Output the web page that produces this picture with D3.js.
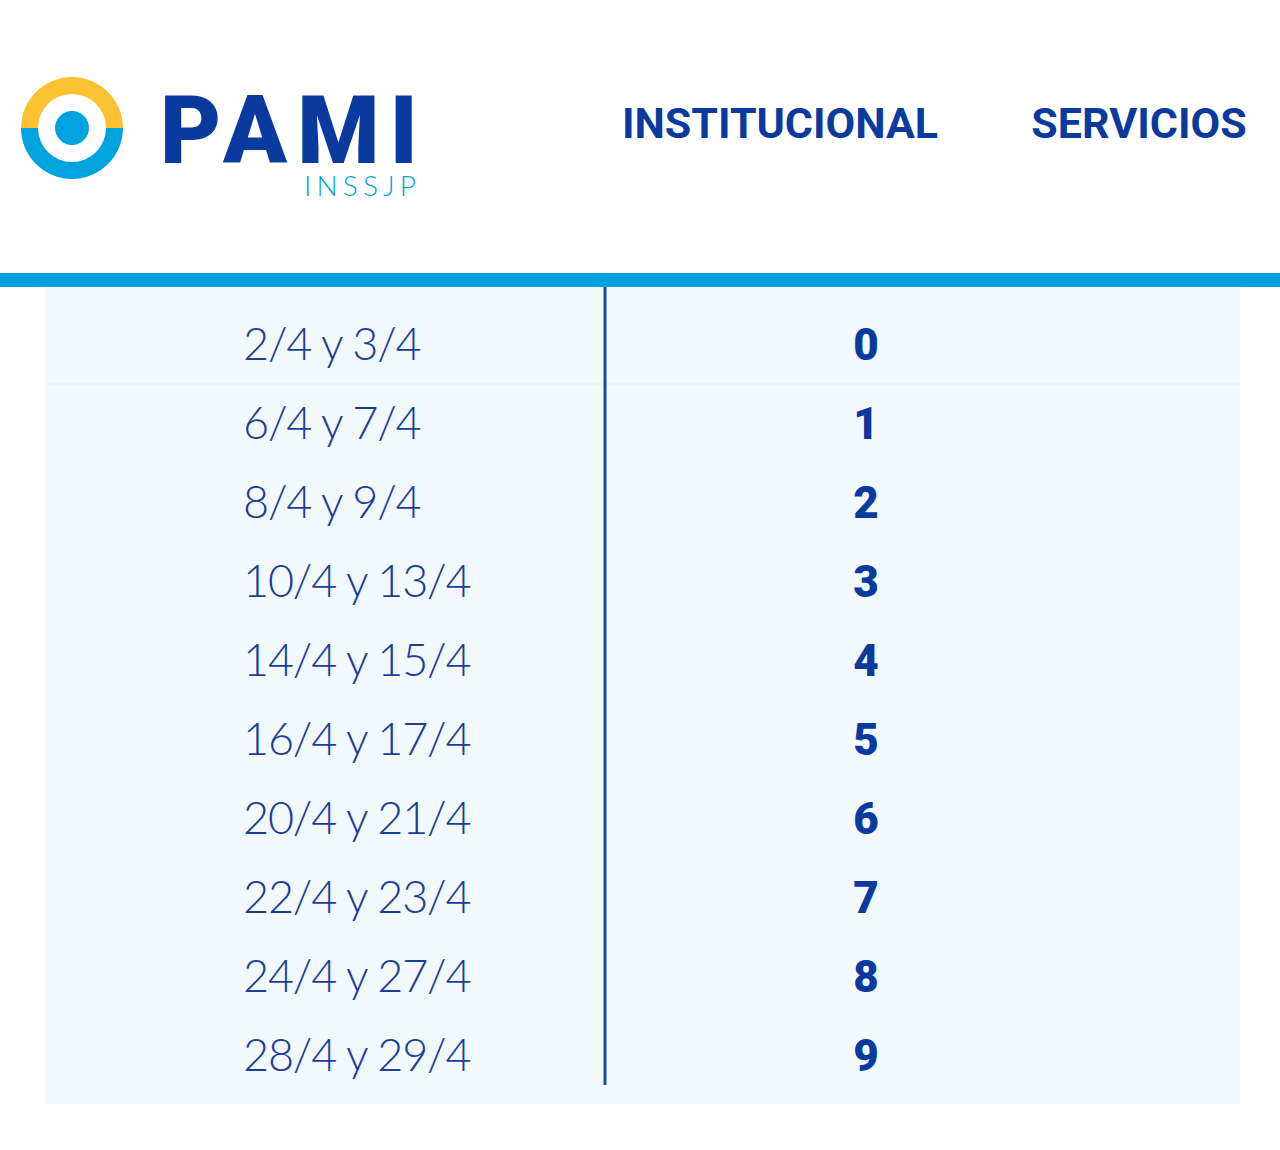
<!DOCTYPE html>
<html><head><meta charset="utf-8">
<script src="https://cdn.jsdelivr.net/npm/d3@7"></script>
<style>body{margin:0;background:#fff}</style>
</head><body>
<svg id="chart"></svg>
<script>
const dates = ["2/4 y 3/4","6/4 y 7/4","8/4 y 9/4","10/4 y 13/4","14/4 y 15/4","16/4 y 17/4","20/4 y 21/4","22/4 y 23/4","24/4 y 27/4","28/4 y 29/4"];
const digits = [0,1,2,3,4,5,6,7,8,9];
const menu = ["INSTITUCIONAL","SERVICIOS"];

const dark = "#0b3a9e", light = "#00a3de";
const svg = d3.select("#chart").attr("width",1280).attr("height",1150);

// logo
const arc = d3.arc();
const logo = svg.append("g").attr("transform","translate(72,128)");
logo.append("path").attr("fill","#fdc232")
  .attr("d",arc({innerRadius:34,outerRadius:51,startAngle:-Math.PI/2,endAngle:Math.PI/2}));
logo.append("path").attr("fill",light)
  .attr("d",arc({innerRadius:34,outerRadius:51,startAngle:Math.PI/2,endAngle:Math.PI*1.5}));
logo.append("circle").attr("r",17).attr("fill",light);
svg.append("text").attr("x",160).attr("y",163).text("PAMI")
  .attr("font-family","Roboto").attr("font-weight",900).attr("font-size",94)
  .attr("fill",dark).attr("textLength",258);
svg.append("text").attr("x",304).attr("y",196).text("INSSJP")
  .attr("font-family","Lato").attr("font-weight",300).attr("font-size",28)
  .attr("fill",light).attr("textLength",112);

const mx = d3.scalePoint().domain(menu).range([780,1139]);
svg.selectAll(".menu").data(menu).join("text")
  .attr("x",d=>mx(d)).attr("y",138).attr("text-anchor","middle").text(d=>d)
  .attr("font-family","Roboto").attr("font-weight",700).attr("font-size",43).attr("fill",dark);

svg.append("rect").attr("x",0).attr("y",273).attr("width",1280).attr("height",14).attr("fill","#00a2dd");

// table
svg.append("rect").attr("x",45).attr("y",287).attr("width",1195).attr("height",817).attr("fill","#f1f9fd");
const y = d3.scaleBand().domain(d3.range(dates.length)).range([306,1095]);
svg.append("line").attr("x1",45).attr("x2",1240).attr("y1",y(1)-1).attr("y2",y(1)-1)
  .attr("stroke","#e4f1f8").attr("stroke-width",1.5);
svg.append("line").attr("x1",605).attr("x2",605).attr("y1",287).attr("y2",1085)
  .attr("stroke","#1450a6").attr("stroke-width",3);

svg.selectAll(".d").data(dates).join("text")
  .attr("x",243).attr("y",(d,i)=>y(i)+y.bandwidth()/2+15).text(d=>d)
  .attr("font-family","Lato").attr("font-weight",300).attr("font-size",45)
  .attr("letter-spacing",-1.2).attr("fill","#1a3e98");
svg.selectAll(".n").data(digits).join("text")
  .attr("x",866).attr("y",(d,i)=>y(i)+y.bandwidth()/2+15).attr("text-anchor","middle").text(d=>d)
  .attr("font-family","Roboto").attr("font-weight",900).attr("font-size",44).attr("fill",dark);
</script>
</body></html>
